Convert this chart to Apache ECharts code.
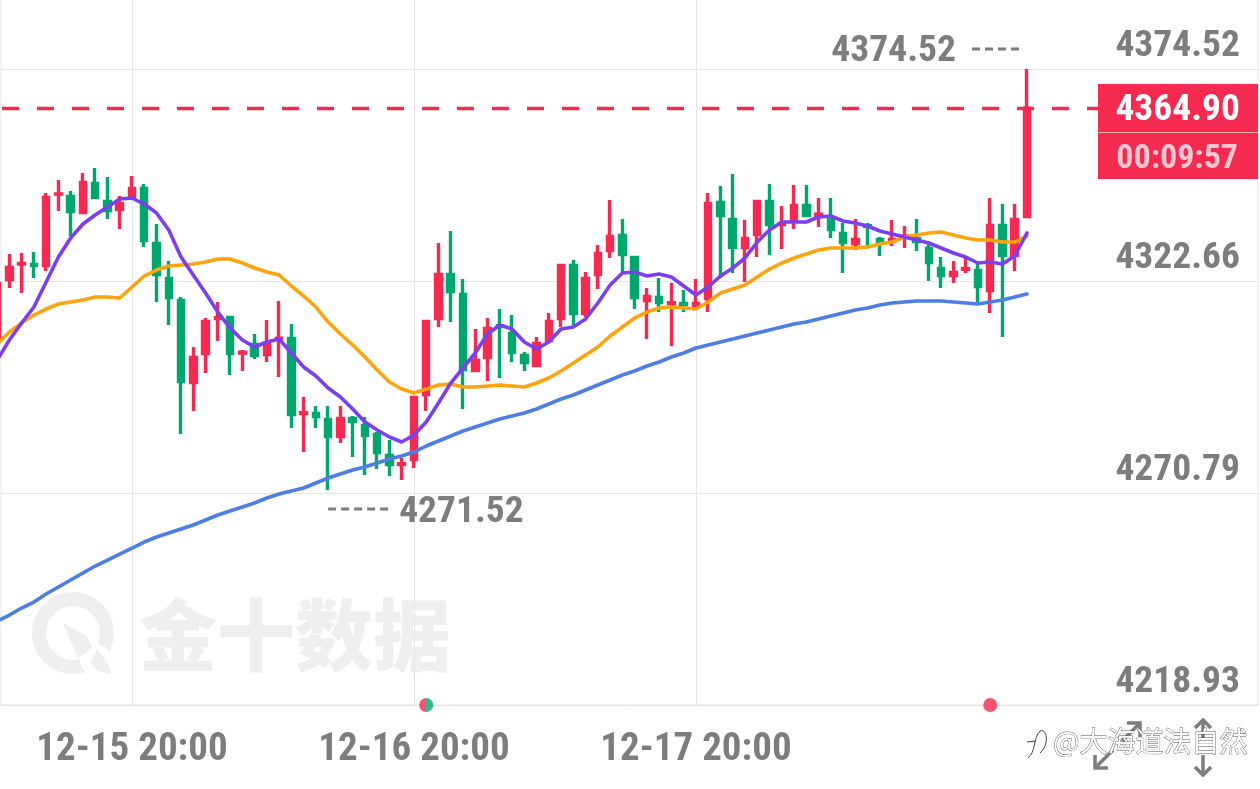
<!DOCTYPE html>
<html>
<head>
<meta charset="utf-8">
<title>K线图</title>
<script src="https://cdn.jsdelivr.net/npm/echarts@6/dist/echarts.min.js"></script>
<style>
html, body { margin: 0; padding: 0; background: #fff; }
#chart { width: 1260px; height: 789px; }
</style>
</head>
<body>
<div id="chart"></div>
<script>
// candle values, one per hour
const openVals = [4308.59,4323.02,4326.83,4326.69,4326.45,4343.90,4343.33,4339.41,4346.51,4342.10,4340.15,4343.33,4345.28,4331.83,4323.27,4317.88,4297.82,4304.92,4313.50,4313.72,4305.06,4307.12,4304.67,4308.49,4308.59,4290.26,4290.24,4288.77,4284.61,4289.01,4287.30,4285.10,4279.96,4277.78,4278.98,4294.89,4313.48,4324.24,4319.35,4300.76,4303.94,4311.74,4309.81,4304.43,4301.98,4308.10,4313.48,4326.45,4314.70,4324.24,4330.12,4333.78,4328.40,4317.88,4318.62,4317.17,4317.15,4316.66,4318.37,4341.86,4337.70,4330.85,4334.03,4342.10,4336.48,4337.45,4341.12,4338.82,4337.94,4334.27,4331.83,4336.21,4332.81,4332.56,4333.44,4333.05,4330.60,4325.71,4324.00,4325.49,4325.22,4320.33,4336.23,4328.89,4338.43];
const closeVals = [4322.04,4325.96,4326.93,4326.45,4343.08,4343.98,4339.66,4346.75,4343.08,4339.90,4341.61,4345.28,4332.56,4324.24,4318.62,4298.07,4303.94,4312.74,4313.70,4304.92,4305.26,4304.43,4307.36,4308.69,4289.99,4290.46,4289.50,4284.61,4289.01,4288.28,4284.85,4280.70,4277.76,4277.98,4294.15,4312.74,4324.24,4320.08,4301.00,4303.20,4311.03,4311.54,4305.16,4302.71,4307.36,4312.74,4326.45,4314.70,4323.27,4329.38,4333.54,4329.14,4318.62,4318.86,4317.39,4317.37,4316.90,4317.15,4341.61,4338.68,4330.85,4333.05,4342.10,4336.48,4336.72,4341.12,4338.68,4339.02,4335.25,4332.07,4332.81,4336.01,4332.32,4332.81,4333.64,4332.32,4327.18,4324.00,4324.73,4325.69,4321.31,4336.23,4328.89,4337.70,4364.90];
const lowVals = [4308.22,4320.94,4319.72,4323.39,4325.10,4339.78,4333.66,4339.04,4342.71,4337.82,4335.38,4342.96,4330.97,4317.52,4311.89,4285.22,4290.85,4300.15,4307.97,4299.66,4300.63,4303.57,4302.84,4299.17,4286.69,4280.82,4286.69,4271.52,4283.02,4279.59,4275.19,4276.66,4274.95,4273.97,4276.90,4290.85,4311.40,4312.62,4291.34,4300.39,4298.19,4298.92,4302.84,4300.63,4301.61,4307.49,4311.40,4311.89,4313.85,4320.70,4328.28,4324.86,4315.80,4308.46,4315.07,4306.75,4315.07,4316.05,4315.07,4323.39,4324.61,4322.41,4328.52,4329.01,4330.48,4335.38,4338.31,4335.86,4333.17,4324.61,4330.24,4331.22,4328.77,4331.22,4330.73,4329.99,4322.65,4320.94,4322.16,4324.61,4316.78,4314.82,4308.95,4325.10,4338.07];
const highVals = [4322.41,4329.26,4329.50,4329.75,4344.18,4347.36,4344.67,4349.08,4350.30,4348.10,4343.45,4348.34,4346.38,4336.60,4327.55,4318.74,4306.51,4313.60,4317.52,4314.09,4305.77,4309.69,4313.11,4317.76,4312.13,4294.27,4292.07,4292.07,4292.07,4289.63,4289.38,4285.71,4283.75,4279.35,4294.52,4313.11,4331.95,4334.89,4323.14,4310.91,4313.60,4315.80,4314.34,4305.28,4308.95,4314.82,4326.81,4327.79,4324.86,4331.46,4342.47,4337.82,4328.77,4320.94,4323.39,4322.16,4320.45,4323.14,4344.18,4345.90,4348.83,4337.58,4342.47,4346.38,4341.00,4346.14,4346.14,4342.96,4342.96,4336.84,4337.82,4336.84,4333.42,4337.58,4336.11,4337.82,4332.19,4328.52,4327.55,4328.28,4326.81,4342.96,4341.49,4341.49,4374.52];

// moving averages
const maPurple = [4303.33,4308.22,4312.38,4316.29,4322.41,4328.52,4333.17,4336.60,4338.80,4340.76,4342.71,4342.96,4341.49,4339.29,4335.13,4328.52,4324.12,4319.72,4315.07,4311.15,4308.22,4306.51,4307.73,4308.46,4305.04,4301.61,4299.41,4296.48,4294.27,4291.34,4288.16,4286.20,4284.49,4283.26,4284.98,4288.16,4292.81,4297.70,4301.37,4305.04,4309.69,4311.89,4310.91,4307.73,4306.02,4307.73,4310.91,4311.40,4313.36,4317.27,4321.67,4324.61,4324.86,4323.88,4324.37,4323.63,4321.43,4319.23,4321.19,4323.88,4325.83,4328.28,4332.19,4335.13,4337.09,4337.09,4337.09,4338.31,4338.56,4337.33,4336.84,4336.11,4334.89,4334.15,4333.42,4332.68,4331.95,4330.73,4329.50,4328.52,4327.06,4327.30,4326.81,4328.77,4334.40];
const maOrange = [4307.24,4310.18,4312.38,4314.34,4315.80,4317.03,4317.52,4318.00,4318.74,4318.74,4318.49,4321.19,4323.88,4325.34,4326.32,4326.57,4326.81,4327.30,4328.04,4328.04,4327.06,4325.83,4324.86,4324.12,4321.43,4318.98,4316.29,4312.62,4309.69,4307.00,4304.06,4300.88,4297.94,4296.23,4295.25,4296.23,4297.21,4297.45,4296.72,4296.72,4296.97,4297.21,4296.97,4296.72,4297.70,4298.92,4300.63,4302.59,4304.55,4306.51,4309.20,4311.40,4313.60,4315.07,4316.05,4316.29,4316.05,4315.80,4317.52,4319.72,4320.70,4321.67,4323.63,4325.59,4327.06,4328.28,4329.26,4330.24,4330.73,4330.73,4330.73,4330.97,4331.71,4332.19,4333.42,4333.91,4334.40,4334.64,4333.91,4333.17,4332.68,4332.68,4332.19,4332.19,4333.66];
const maBlue = [4239.47,4240.94,4242.65,4244.12,4246.08,4247.79,4249.50,4251.22,4252.93,4254.40,4255.86,4257.33,4258.80,4260.02,4261.00,4261.98,4262.96,4264.18,4265.41,4266.38,4267.36,4268.34,4269.56,4270.54,4271.28,4272.01,4273.23,4274.46,4275.44,4276.41,4277.15,4278.13,4279.11,4279.84,4280.82,4282.29,4283.51,4284.73,4285.96,4286.93,4287.91,4288.89,4289.63,4290.36,4291.34,4292.56,4293.79,4294.76,4295.99,4297.21,4298.43,4299.66,4300.63,4301.86,4302.84,4304.06,4305.04,4306.26,4307.00,4307.73,4308.46,4309.20,4309.93,4310.67,4311.40,4312.13,4312.62,4313.36,4314.09,4314.82,4315.56,4316.05,4316.78,4317.27,4317.52,4317.76,4317.76,4317.76,4317.52,4317.27,4317.03,4317.52,4318.00,4318.74,4319.47];

// axis
const yTicks = [4218.93, 4270.79, 4322.66, 4374.52];
const xTickIndex = [11, 34, 57];
const xTickLabels = ['12-15 20:00', '12-16 20:00', '12-17 20:00'];
const totalSlots = 103; // blank slots on the right of the last candle

// annotations
const lastPrice = 4364.90;
const countdown = '00:09:57';
const maxIndex = 84, maxPrice = 4374.52;
const minIndex = 27, minPrice = 4271.52;
const eventMixed = [35];
const eventRed = [81];

const UP = '#f52a50', DOWN = '#00a76c', GREY = '#7d7d7d', GRIDLINE = '#e6e6e6', MARK = '#efefef';
const NUM_FONT = '"Liberation Sans Narrow", "Roboto Condensed", Roboto, sans-serif';

const categories = [];
for (let i = 0; i < totalSlots; i++) categories.push(String(i));
const candles = openVals.map(function (o, i) {
    return [o, closeVals[i], lowVals[i], highVals[i]];
});

function lineSeries(name, data, color) {
    return {
        name: name,
        type: 'line',
        xAxisIndex: 0,
        yAxisIndex: 0,
        data: data,
        showSymbol: false,
        symbol: 'none',
        silent: true,
        z: 5,
        lineStyle: { color: color, width: 3.6, cap: 'round', join: 'round' }
    };
}

const chart = echarts.init(document.getElementById('chart'));

chart.setOption({
    animation: false,
    backgroundColor: '#fff',
    grid: [
        // candles: one slot is 12.26 wide, first candle hangs off the left edge
        { left: -9, top: 0, width: 1262.78, height: 705, outerBoundsMode: 'none' },
        // frame and price lines
        { left: 1, top: -1, width: 1257, height: 706, show: true, borderColor: GRIDLINE, borderWidth: 1, outerBoundsMode: 'none' }
    ],
    xAxis: [
        {
            type: 'category',
            gridIndex: 0,
            data: categories,
            axisLine: { show: false },
            axisTick: { show: false },
            splitLine: {
                show: true,
                alignWithLabel: true,
                interval: function (i) { return xTickIndex.indexOf(i) >= 0; },
                lineStyle: { color: GRIDLINE, width: 1 }
            },
            axisLabel: {
                interval: function (i) { return xTickIndex.indexOf(i) >= 0; },
                formatter: function (v, i) {
                    const k = xTickIndex.indexOf(i);
                    return k >= 0 ? xTickLabels[k] : '';
                },
                color: GREY,
                fontFamily: NUM_FONT,
                fontWeight: 'bold',
                fontSize: 39,
                margin: 26
            }
        },
        { type: 'value', gridIndex: 1, show: false, min: 0, max: 1 }
    ],
    yAxis: [
        { type: 'value', gridIndex: 0, show: false, min: 4218.93, max: 4391.40, splitLine: { show: false } },
        {
            type: 'value',
            gridIndex: 1,
            position: 'right',
            min: 4218.93,
            max: 4391.64,
            axisLine: { show: false },
            axisTick: { show: false, customValues: yTicks },
            splitLine: { show: true, lineStyle: { color: GRIDLINE, width: 1 } },
            axisLabel: {
                inside: true,
                customValues: yTicks,
                formatter: function (v) { return v.toFixed(2); },
                color: GREY,
                fontFamily: NUM_FONT,
                fontWeight: 'bold',
                fontSize: 37.5,
                verticalAlign: 'bottom',
                padding: [0, 0, 3, 0],
                margin: 18
            }
        }
    ],
    series: [
        {
            type: 'candlestick',
            xAxisIndex: 0,
            yAxisIndex: 0,
            data: candles,
            barWidth: 6,
            silent: true,
            z: 3,
            itemStyle: { color: UP, color0: DOWN, borderColor: UP, borderColor0: DOWN, borderWidth: 3.4 },
            markLine: {
                silent: true,
                symbol: 'none',
                animation: false,
                label: { show: false },
                lineStyle: { color: UP, type: [17, 18], dashOffset: 24, width: 3.4, opacity: 1 },
                data: [{ yAxis: lastPrice }]
            }
        },
        lineSeries('MA-blue', maBlue, '#4c7ee6'),
        lineSeries('MA-orange', maOrange, '#ffa30f'),
        lineSeries('MA-purple', maPurple, '#7a3ff0'),
        {
            type: 'scatter',
            xAxisIndex: 0,
            yAxisIndex: 0,
            clip: false,
            silent: true,
            symbolSize: 14,
            z: 6,
            data: eventMixed.map(function (i) { return [i, 4218.93]; }),
            itemStyle: {
                color: new echarts.graphic.LinearGradient(0, 0, 1, 0, [
                    { offset: 0, color: UP }, { offset: 0.5, color: UP },
                    { offset: 0.5, color: DOWN }, { offset: 1, color: DOWN }
                ])
            }
        },
        {
            type: 'scatter',
            xAxisIndex: 0,
            yAxisIndex: 0,
            clip: false,
            silent: true,
            symbolSize: 14,
            z: 6,
            data: eventRed.map(function (i) { return [i, 4218.93]; }),
            itemStyle: { color: UP }
        }
    ]
});

// high / low annotations hang off the candles, so take pixels from the axes
const hiPt = chart.convertToPixel({ xAxisIndex: 0, yAxisIndex: 0 }, [maxIndex, maxPrice]);
const loPt = chart.convertToPixel({ xAxisIndex: 0, yAxisIndex: 0 }, [minIndex, minPrice]);

function dashLine(x1, x2, y) {
    return {
        type: 'line', z: 20, silent: true,
        shape: { x1: x1, y1: y, x2: x2, y2: y },
        style: { stroke: GREY, lineWidth: 3, lineDash: [8, 5] }
    };
}
function numText(text, x, y, align, color, size) {
    return {
        type: 'text', z: 60, silent: true, x: x, y: y,
        style: {
            text: text, fill: color, align: align, verticalAlign: 'middle',
            font: 'bold ' + size + 'px ' + NUM_FONT
        }
    };
}
function wire(points) {
    return {
        type: 'polyline', z: 30, silent: true,
        shape: { points: points },
        style: { fill: 'none', stroke: GREY, lineWidth: 3.5 }
    };
}

chart.setOption({
    graphic: [
        // watermark
        { type: 'ring', z: -1, silent: true, shape: { cx: 73, cy: 633, r: 41, r0: 27 }, style: { fill: MARK } },
        { type: 'circle', z: -1, silent: true, shape: { cx: 96, cy: 660, r: 16 }, style: { fill: '#fff' } },
        { type: 'polygon', z: -1, silent: true, shape: { points: [[63, 623], [87, 636], [92, 648], [78, 658]] }, style: { fill: MARK } },
        { type: 'polygon', z: -1, silent: true, shape: { points: [[97, 650], [106, 660], [112, 674], [98, 671], [90, 663]] }, style: { fill: MARK } },
        {
            type: 'text', z: -1, silent: true, x: 139, y: 635,
            style: { text: '金十数据', fill: MARK, verticalAlign: 'middle', font: '900 78px "Noto Sans CJK SC"' }
        },

        // high and low
        numText(maxPrice.toFixed(2), hiPt[0] - 71, hiPt[1] - 17, 'right', GREY, 37.5),
        dashLine(hiPt[0] - 55, hiPt[0] - 7, hiPt[1] - 20),
        numText(minPrice.toFixed(2), loPt[0] + 71, loPt[1] + 23, 'left', GREY, 37.5),
        dashLine(loPt[0], loPt[0] + 64, loPt[1] + 19),

        // current price box
        { type: 'rect', z: 50, silent: true, shape: { x: 1098, y: 84, width: 160, height: 95 }, style: { fill: UP } },
        { type: 'line', z: 51, silent: true, shape: { x1: 1098, y1: 132.5, x2: 1258, y2: 132.5 }, style: { stroke: '#fba9b9', lineWidth: 1 } },
        numText(lastPrice.toFixed(2), 1240, 111, 'right', '#fff', 37.5),
        numText(countdown, 1238, 159, 'right', '#ffc6d2', 34),

        // expand and vertical scale icons
        wire([[1127, 723], [1140, 723], [1140, 737]]),
        wire([[1140, 723], [1122, 741]]),
        wire([[1095, 755], [1095, 768], [1108, 768]]),
        wire([[1095, 768], [1113, 750]]),
        wire([[1195, 728], [1203, 720], [1211, 728]]),
        wire([[1203, 720], [1203, 740]]),
        wire([[1203, 755], [1203, 775]]),
        wire([[1195, 767], [1203, 775], [1211, 767]]),

        // repost signature
        {
            type: 'bezierCurve', z: 40, silent: true,
            shape: { x1: 1028, y1: 758, cpx1: 1036, cpy1: 752, cpx2: 1033, cpy2: 738, x2: 1040, y2: 731 },
            style: { fill: 'none', stroke: '#444', lineWidth: 1 }
        },
        {
            type: 'bezierCurve', z: 40, silent: true,
            shape: { x1: 1040, y1: 731, cpx1: 1048, cpy1: 728, cpx2: 1049, cpy2: 746, x2: 1040, y2: 753 },
            style: { fill: 'none', stroke: '#444', lineWidth: 1 }
        },
        {
            type: 'line', z: 40, silent: true,
            shape: { x1: 1027, y1: 742, x2: 1036, y2: 741 },
            style: { stroke: '#444', lineWidth: 1 }
        },
        {
            type: 'text', z: 40, silent: true, x: 1053, y: 741,
            style: {
                text: '@大海道法自然', fill: '#fff', stroke: '#555', lineWidth: 0.8, verticalAlign: 'middle',
                font: '28px "Noto Sans CJK SC"'
            }
        }
    ]
});
</script>
</body>
</html>
